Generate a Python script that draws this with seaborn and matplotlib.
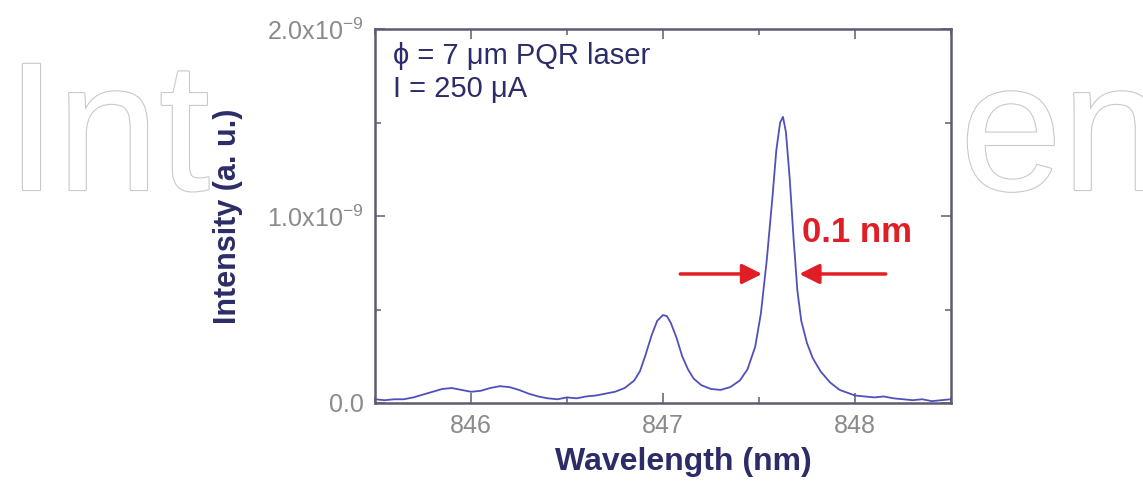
import matplotlib
matplotlib.use("Agg")
import matplotlib.pyplot as plt
import matplotlib.patheffects as pe
from matplotlib.patches import Rectangle
from matplotlib.ticker import MultipleLocator
import seaborn as sns
import pandas as pd

# ---------------- data ----------------
wavelength_nm = [845.50, 845.55, 845.60, 845.65, 845.70, 845.75, 845.80, 845.85,
                 845.90, 845.95, 846.00, 846.05, 846.10, 846.15, 846.20, 846.25,
                 846.30, 846.35, 846.40, 846.45, 846.50, 846.55, 846.60, 846.65,
                 846.70, 846.75, 846.80, 846.85, 846.88, 846.91, 846.94, 846.97,
                 847.00, 847.02, 847.04, 847.07, 847.10, 847.13, 847.16, 847.20,
                 847.25, 847.30, 847.35, 847.40, 847.44, 847.48, 847.51, 847.54,
                 847.57, 847.59, 847.61, 847.625, 847.64, 847.66, 847.68, 847.70,
                 847.72, 847.75, 847.78, 847.82, 847.87, 847.92, 848.00, 848.05,
                 848.10, 848.15, 848.20, 848.25, 848.30, 848.35, 848.40, 848.45,
                 848.50]
intensity_1e9 = [0.020, 0.015, 0.020, 0.020, 0.030, 0.045, 0.060, 0.075,
                 0.080, 0.070, 0.060, 0.065, 0.080, 0.090, 0.085, 0.070,
                 0.050, 0.035, 0.025, 0.020, 0.030, 0.025, 0.035, 0.040,
                 0.050, 0.060, 0.080, 0.120, 0.170, 0.260, 0.360, 0.440,
                 0.470, 0.465, 0.430, 0.350, 0.250, 0.180, 0.130, 0.095,
                 0.075, 0.070, 0.085, 0.120, 0.180, 0.300, 0.480, 0.760,
                 1.100, 1.350, 1.500, 1.530, 1.450, 1.200, 0.880, 0.600,
                 0.440, 0.320, 0.240, 0.170, 0.110, 0.070, 0.040, 0.035,
                 0.030, 0.035, 0.025, 0.020, 0.015, 0.020, 0.010, 0.015,
                 0.020]
x_ticks = [846, 847, 848]
x_tick_labels = ["846", "847", "848"]
y_ticks = [0.0, 1.0e-9, 2.0e-9]
y_tick_labels = ["0.0", "1.0x10$^{-9}$", "2.0x10$^{-9}$"]
fwhm_label = "0.1 nm"
fwhm_arrow_left = (847.09, 847.516)    # tail -> tip
fwhm_arrow_right = (848.16, 847.71)   # tail -> tip
fwhm_arrow_level = 0.69e-9
info_lines = ["\u03d5 = 7 \u03bcm PQR laser", "I = 250 \u03bcA"]

df = pd.DataFrame({"Wavelength": wavelength_nm,
                   "Intensity": [v * 1e-9 for v in intensity_1e9]})

# ---------------- style ----------------
sns.set_theme(style="ticks")
plt.rcParams["font.family"] = ["Liberation Sans", "DejaVu Sans"]
plt.rcParams["mathtext.fontset"] = "custom"
plt.rcParams["mathtext.rm"] = "Liberation Sans"
plt.rcParams["mathtext.it"] = "Liberation Sans:italic"
plt.rcParams["mathtext.bf"] = "Liberation Sans:bold"

W, H = 1143, 482
fig = plt.figure(figsize=(W / 100, H / 100), dpi=100, facecolor="white")

# watermark (outlined light-grey letters behind the chart)
wm_kw = dict(fontsize=132, color="white", zorder=-3, va="baseline", ha="left",
             path_effects=[pe.Stroke(linewidth=1.6, foreground="#c9c9c9"), pe.Normal()])
fig.text(6 / W, 1 - 190 / H, "Int", **wm_kw)
fig.text(960 / W, 1 - 190 / H, "en", **wm_kw)
fig.patches.append(Rectangle((240 / W, 0), (958 - 240) / W, 1, transform=fig.transFigure,
                             facecolor="white", edgecolor="none", zorder=-2))

ax = fig.add_axes([375 / W, 1 - 403 / H, (951 - 375) / W, (403 - 29) / H])
ax.set_facecolor("white")

line_color = "#5050bb"
navy = "#2c2c68"
grey = "#8a8a8a"
red = "#e01e26"

sns.lineplot(data=df, x="Wavelength", y="Intensity", ax=ax, color=line_color,
             linewidth=1.3, estimator=None)

ax.set_xlim(845.5, 848.5)
ax.set_ylim(0, 2.0e-9)
ax.set_xticks(x_ticks)
ax.set_xticklabels(x_tick_labels)
ax.set_yticks(y_ticks)
ax.set_yticklabels(y_tick_labels)
ax.xaxis.set_minor_locator(MultipleLocator(0.5))
ax.yaxis.set_minor_locator(MultipleLocator(0.5e-9))
ax.tick_params(which="both", direction="in", top=True, right=True,
               color="#6a6a80", width=1.2)
ax.tick_params(which="major", length=7, labelsize=18, labelcolor=grey, pad=8)
ax.tick_params(which="minor", length=4)
for s in ax.spines.values():
    s.set_color("#5c5c72")
    s.set_linewidth(1.8)

ax.set_xlabel("Wavelength (nm)", fontsize=23, fontweight="bold", color=navy)
ax.xaxis.set_label_coords(0.535, -0.158)
ax.xaxis.label.set_va("center")
ax.set_ylabel("Intensity (a. u.)", fontsize=22, fontweight="bold", color=navy)
ax.yaxis.set_label_coords(-0.255, 0.5)
ax.yaxis.label.set_va("center")

ax.text(0.031, 0.906, info_lines[0], transform=ax.transAxes, fontsize=21,
        color=navy, va="baseline", ha="left")
ax.text(0.031, 0.818, info_lines[1], transform=ax.transAxes, fontsize=21,
        color=navy, va="baseline", ha="left")

ax.text(0.741, 0.457, fwhm_label, transform=ax.transAxes, fontsize=25,
        fontweight="bold", color=red, va="center", ha="left")

arrow_kw = dict(arrowstyle="-|>,head_length=0.6,head_width=0.3", color=red,
                lw=2.5, mutation_scale=20, shrinkA=0, shrinkB=0)
ax.annotate("", xy=(fwhm_arrow_left[1], fwhm_arrow_level),
            xytext=(fwhm_arrow_left[0], fwhm_arrow_level), arrowprops=arrow_kw)
ax.annotate("", xy=(fwhm_arrow_right[1], fwhm_arrow_level),
            xytext=(fwhm_arrow_right[0], fwhm_arrow_level), arrowprops=arrow_kw)

fig.savefig("out.png", dpi=100, facecolor="white")
